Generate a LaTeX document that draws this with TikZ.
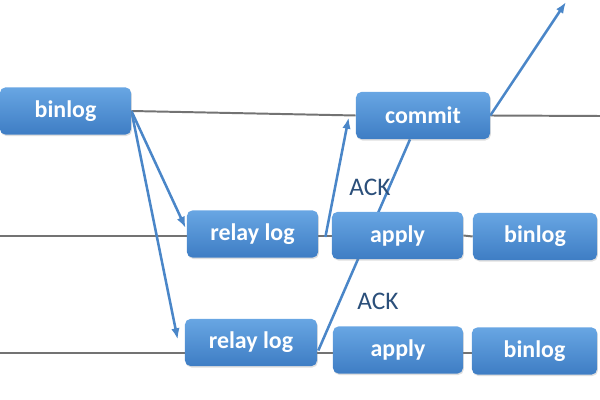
\documentclass[tikz,border=0pt]{standalone}
\usepackage{fontspec}
\setmainfont{Carlito}
\usetikzlibrary{arrows.meta,positioning,calc,shadows,backgrounds}
\definecolor{boxtop}{RGB}{104,166,227}
\definecolor{boxbot}{RGB}{62,125,196}
\definecolor{flow}{RGB}{74,134,200}
\definecolor{ackcol}{RGB}{43,79,122}
\definecolor{wire}{RGB}{115,115,115}

\begin{document}
\begin{tikzpicture}[x=0.025cm,y=-0.025cm,
  logbox/.style={rounded corners=4pt, top color=boxtop, bottom color=boxbot,
    text=white, font=\bfseries\fontsize{17}{19}\selectfont,
    minimum width=3.28cm, minimum height=1.18cm,
    drop shadow={opacity=0.25,shadow xshift=0.6pt,shadow yshift=-1pt}},
  wireline/.style={wire, line width=1.4pt},
  flowline/.style={flow, line width=1.8pt, >={Latex[length=8pt,width=6pt]}},
  acklabel/.style={text=ackcol, font=\fontsize{18}{20}\selectfont}]
  \useasboundingbox (0,0) rectangle (600,400);
  % master
  \node[logbox] (mbin) at (65.5,111) {binlog};
  \node[logbox, minimum width=3.35cm] (commit) at (423,115.5) {commit};
  % slave 1
  \node[logbox] (relayA) at (252.5,234) {relay log};
  \node[logbox] (applyA) at (397.5,235.5) {apply};
  \node[logbox, minimum width=3.1cm] (binA) at (535,236.5) {binlog};
  % slave 2
  \node[logbox, minimum width=3.3cm] (relayB) at (251,342.5) {relay log};
  \node[logbox, minimum width=3.25cm] (applyB) at (398,350) {apply};
  \node[logbox, minimum width=3.13cm] (binB) at (534.5,351) {binlog};
  \node[acklabel] (ackA) at (370,187) {ACK};
  \node[acklabel] (ackB) at (378,301) {ACK};
  \coordinate (mend) at (600,116);
  \coordinate (aleft) at (0,236);
  \coordinate (bleft) at (0,353);
  \coordinate (out) at (566,2);
  \begin{scope}[on background layer]
    % time lines
    \draw[wireline] (mbin.east) -- (commit.west);
    \draw[wireline] (commit.east) -- (mend);
    \draw[wireline] (aleft) -- (relayA.west |- aleft);
    \draw[wireline] (relayA.east |- aleft) -- (applyA.west |- aleft);
    \draw[wireline] (applyA.east) -- (binA.west);
    \draw[wireline] (bleft) -- (relayB.west |- bleft);
    \draw[wireline] (relayB.east |- bleft) -- (applyB.west |- bleft);
    \draw[wireline] (applyB.east |- bleft) -- (binB.west |- bleft);
    % events
    \draw[flowline,->] (mbin.east) -- ($(relayA.west)+(-1,-6)$);
    \draw[flowline,->] (mbin.east) -- ($(relayB.west)+(-7,-3)$);
    \draw[flowline,->] ($(relayA.east)+(7,3)$) -- ($(commit.west)+(-7,2)$);
    \draw[flowline] ($(relayB.east)+(1,8)$) -- ($(commit.south)+(-13,0)$);
    \draw[flowline,->] (commit.east) -- (out);
  \end{scope}
\end{tikzpicture}
\end{document}
